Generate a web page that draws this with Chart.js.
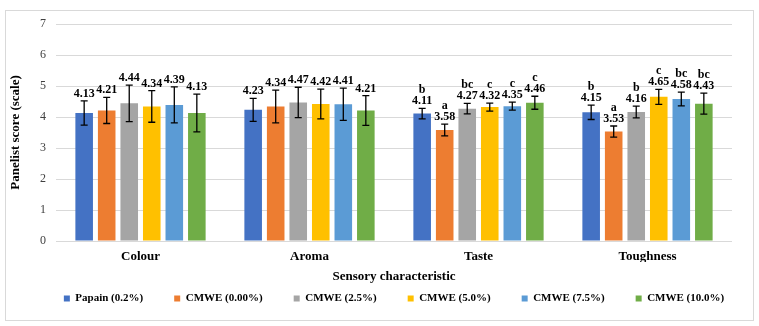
<!DOCTYPE html>
<html><head><meta charset="utf-8">
<script src="https://cdn.jsdelivr.net/npm/chart.js@4.4.1/dist/chart.umd.min.js"></script>
<style>html,body{margin:0;padding:0;background:#fff;} #wrap{position:relative;width:759px;height:326px;} canvas{display:block;}</style>
</head><body><div id="wrap"><canvas id="c" width="759" height="326"></canvas></div>
<script>
const categories = ['Colour', 'Aroma', 'Taste', 'Toughness'];
const seriesNames = ['Papain (0.2%)', 'CMWE (0.00%)', 'CMWE (2.5%)', 'CMWE (5.0%)', 'CMWE (7.5%)', 'CMWE (10.0%)'];
const papain  = [4.13, 4.23, 4.11, 4.15];
const cmwe000 = [4.21, 4.34, 3.58, 3.53];
const cmwe25  = [4.44, 4.47, 4.27, 4.16];
const cmwe50  = [4.34, 4.42, 4.32, 4.65];
const cmwe75  = [4.39, 4.41, 4.35, 4.58];
const cmwe100 = [4.13, 4.21, 4.46, 4.43];
const papainErr  = [0.39, 0.37, 0.17, 0.23];
const cmwe000Err = [0.42, 0.53, 0.19, 0.18];
const cmwe25Err  = [0.59, 0.49, 0.17, 0.19];
const cmwe50Err  = [0.51, 0.48, 0.13, 0.24];
const cmwe75Err  = [0.58, 0.52, 0.13, 0.22];
const cmwe100Err = [0.61, 0.48, 0.21, 0.34];
const papainLetters  = ['', '', 'b', 'b'];
const cmwe000Letters = ['', '', 'a', 'a'];
const cmwe25Letters  = ['', '', 'bc', 'b'];
const cmwe50Letters  = ['', '', 'c', 'c'];
const cmwe75Letters  = ['', '', 'c', 'bc'];
const cmwe100Letters = ['', '', 'c', 'bc'];
const yTicks = [0, 1, 2, 3, 4, 5, 6, 7];

const seriesValues = [papain, cmwe000, cmwe25, cmwe50, cmwe75, cmwe100];
const seriesErrors = [papainErr, cmwe000Err, cmwe25Err, cmwe50Err, cmwe75Err, cmwe100Err];
const seriesLetters = [papainLetters, cmwe000Letters, cmwe25Letters, cmwe50Letters, cmwe75Letters, cmwe100Letters];
const colors = ['#4472C4', '#ED7D31', '#A5A5A5', '#FFC000', '#5B9BD5', '#70AD47'];
const FAMILY = '"Liberation Serif", "Times New Roman", serif';

const frame = {
  id: 'frame',
  beforeDraw(chart) {
    const ctx = chart.ctx;
    ctx.save();
    ctx.strokeStyle = '#d9d9d9';
    ctx.lineWidth = 1;
    ctx.strokeRect(5.5, 10.5, 748, 310);
    ctx.restore();
  }
};

// centre the full-width legend under the plot area
const legendCentre = {
  id: 'legendCentre',
  afterLayout(chart) {
    const lg = chart.legend;
    if (!lg) return;
    const shift = (chart.chartArea.left + chart.chartArea.right) / 2 - (lg.left + lg.right) / 2;
    lg.left += shift; lg.right += shift;
  }
};

const errBars = {
  id: 'errBars',
  afterDatasetsDraw(chart) {
    const ctx = chart.ctx;
    const y = chart.scales.y;
    chart.data.datasets.forEach((ds, i) => {
      const meta = chart.getDatasetMeta(i);
      meta.data.forEach((bar, j) => {
        const v = ds.data[j], e = ds.errors[j];
        const yt = y.getPixelForValue(v + e), yb = y.getPixelForValue(v - e);
        ctx.save();
        ctx.strokeStyle = '#000';
        ctx.lineWidth = 1.3;
        ctx.beginPath();
        ctx.moveTo(bar.x, yt); ctx.lineTo(bar.x, yb);
        ctx.moveTo(bar.x - 3.5, yt); ctx.lineTo(bar.x + 3.5, yt);
        ctx.moveTo(bar.x - 3.5, yb); ctx.lineTo(bar.x + 3.5, yb);
        ctx.stroke();
        ctx.fillStyle = '#000';
        ctx.font = 'bold 12px ' + FAMILY;
        ctx.textAlign = 'center';
        ctx.textBaseline = 'alphabetic';
        ctx.fillText(v.toFixed(2), bar.x, yt - 4);
        if (ds.letters[j]) ctx.fillText(ds.letters[j], bar.x, yt - 15);
        ctx.restore();
      });
    });
  }
};

new Chart(document.getElementById('c'), {
  type: 'bar',
  data: {
    labels: categories,
    datasets: seriesNames.map((name, i) => ({
      label: name,
      data: seriesValues[i],
      errors: seriesErrors[i],
      letters: seriesLetters[i],
      backgroundColor: colors[i],
      borderWidth: 0,
      barPercentage: 0.78,
      categoryPercentage: 0.8
    }))
  },
  options: {
    responsive: false,
    animation: false,
    layout: { padding: { top: 24, right: 27, bottom: 12, left: 0 } },
    plugins: {
      tooltip: { enabled: false },
      legend: {
        position: 'bottom',
        fullSize: true,
        labels: {
          boxWidth: 6, boxHeight: 6, padding: 31, color: '#000',
          font: { family: FAMILY, size: 11, weight: 'bold' }
        }
      }
    },
    scales: {
      x: {
        grid: { display: false, drawTicks: false },
        border: { display: false },
        ticks: { padding: 8, color: '#000', font: { family: FAMILY, size: 13, weight: 'bold' } },
        title: { display: true, text: 'Sensory characteristic', color: '#000',
                 font: { family: FAMILY, size: 13, weight: 'bold' }, padding: { top: 0, bottom: -22 } },
        afterFit(s) { s.height = 21; }
      },
      y: {
        min: 0, max: 7,
        afterBuildTicks(s) { s.ticks = yTicks.map(v => ({ value: v })); },
        grid: { color: '#d9d9d9', drawTicks: false },
        border: { display: false },
        ticks: { padding: 10, color: '#404040', font: { family: FAMILY, size: 12 } },
        title: { display: true, text: 'Panelist score (scale)', color: '#000',
                 font: { family: FAMILY, size: 13, weight: 'bold' }, padding: { top: 8, bottom: 0 } },
        afterFit(s) { s.width = 56; }
      }
    }
  },
  plugins: [frame, legendCentre, errBars]
});
</script>
</body></html>
